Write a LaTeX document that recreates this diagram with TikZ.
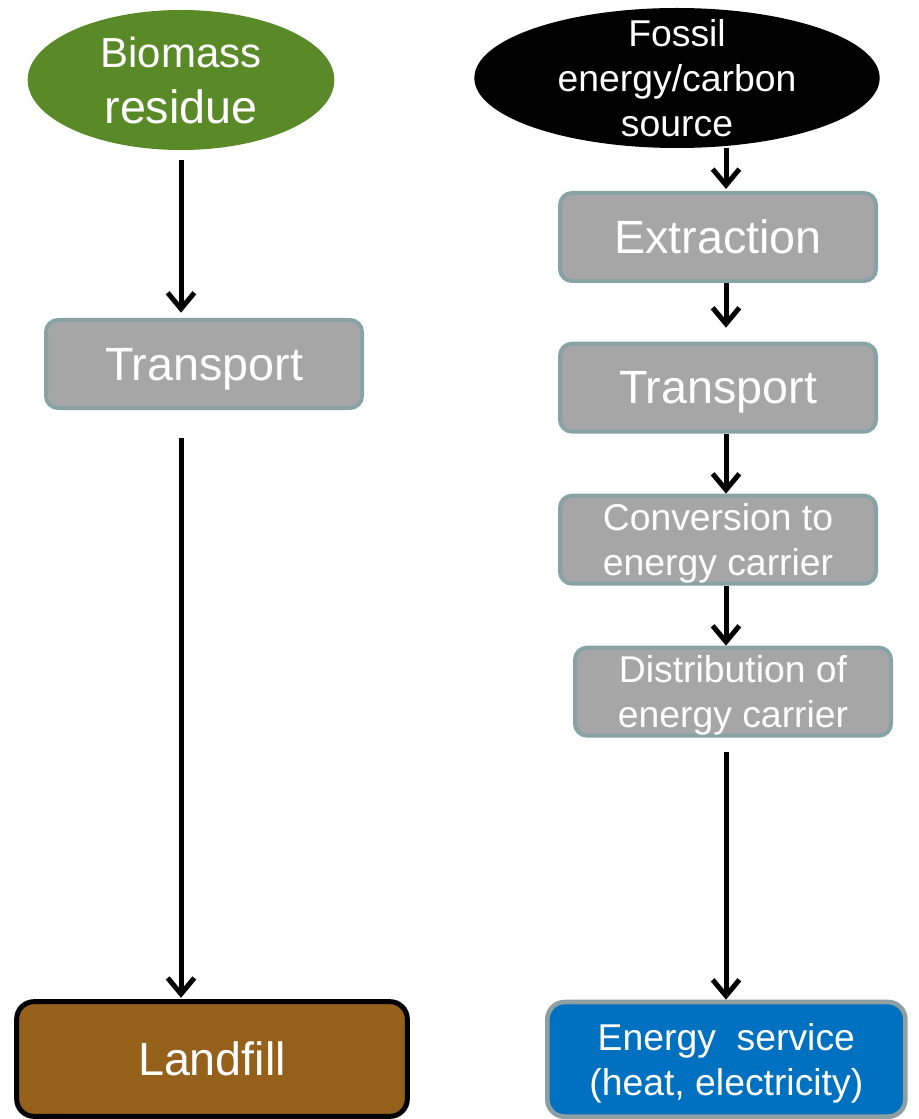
\documentclass[tikz,border=0pt]{standalone}
\usepackage{fontspec}
\setmainfont{Liberation Sans}
\usetikzlibrary{arrows.meta, positioning, shapes.geometric}
\definecolor{bioGreen}{HTML}{5A8A27}
\definecolor{boxGray}{HTML}{A6A6A6}
\definecolor{boxEdge}{HTML}{87A3A6}
\definecolor{fillBrown}{HTML}{94601A}
\definecolor{serviceBlue}{HTML}{0070C0}
\definecolor{serviceEdge}{HTML}{8E9FA2}
\newcommand{\bigtxt}{\fontsize{35}{42}\selectfont}
\newcommand{\smalltxt}{\fontsize{28}{33.5}\selectfont}
\tikzset{
  arrowK/.style={-{Straight Barb[length=12pt, width=20pt]}, draw=black, line width=3.75pt},
  srcEll/.style={ellipse, inner sep=-20pt, text=white, align=center, text depth=0pt},
  boxG/.style={rectangle, rounded corners=9pt, draw=boxEdge, fill=boxGray,
               line width=3pt, text=white, align=center, inner sep=0pt,
               text depth=0pt, minimum width=237pt, minimum height=66pt},
  boxEnd/.style={rectangle, rounded corners=13pt, text=white, align=center,
                 inner sep=0pt, text depth=0pt, minimum height=86pt},
}

\begin{document}
\begin{tikzpicture}[x=0.75pt, y=-0.75pt, node distance=45pt]
    \useasboundingbox (0,0) rectangle (918,1119);
    % biomass side
    \node[srcEll, fill=bioGreen, minimum width=230pt, minimum height=105pt,
          font=\bigtxt] (bio) at (181,80)
          {{\fontsize{31.5}{42}\selectfont Biomass}\\residue};
    \node[boxG, font=\bigtxt] (trl) at (204,364) {Transport};
    \node[boxEnd, draw=black, line width=3.75pt, fill=fillBrown,
          minimum width=293pt, font=\bigtxt] (land) at (212,1059) {Landfill};
    \draw[arrowK, shorten <=7.5pt, shorten >=4pt] (bio.south) -- (bio.south |- trl.north);
    \draw[arrowK, shorten <=21pt, shorten >=1pt] (bio.south |- trl.south) -- (bio.south |- land.north);
    % fossil side
    \node[srcEll, fill=black, minimum width=304pt, minimum height=105pt,
          font=\smalltxt] (fossil) at (677,78) {Fossil\\energy/carbon\\source};
    \node[boxG, font=\bigtxt] (ext) at (718,237) {Extraction};
    \node[boxG, font=\bigtxt, below=44pt of ext] (trr) {Transport};
    \node[boxG, font=\smalltxt, below=of trr] (conv) {Conversion to\\energy carrier};
    \node[boxG, font=\smalltxt, below=of conv, xshift=11.25pt] (dist)
          {Distribution of\\energy carrier};
    \node[boxEnd, draw=serviceEdge, line width=3.5pt, fill=serviceBlue,
          minimum width=268.5pt, font=\smalltxt, below=196.5pt of dist, xshift=-5pt]
          (serv) {Energy~~service\\(heat, electricity)};
    \coordinate (axis) at (726,0);
    \draw[arrowK, shorten >=1.5pt] (fossil.south -| axis) -- (ext.north -| axis);
    \draw[arrowK, shorten >=10.5pt] (ext.south -| axis) -- (trr.north -| axis);
    \draw[arrowK] (trr.south -| axis) -- (conv.north -| axis);
    \draw[arrowK] (conv.south -| axis) -- (dist.north -| axis);
    \draw[arrowK, shorten <=10.5pt] (dist.south -| axis) -- (serv.north -| axis);
\end{tikzpicture}
\end{document}
